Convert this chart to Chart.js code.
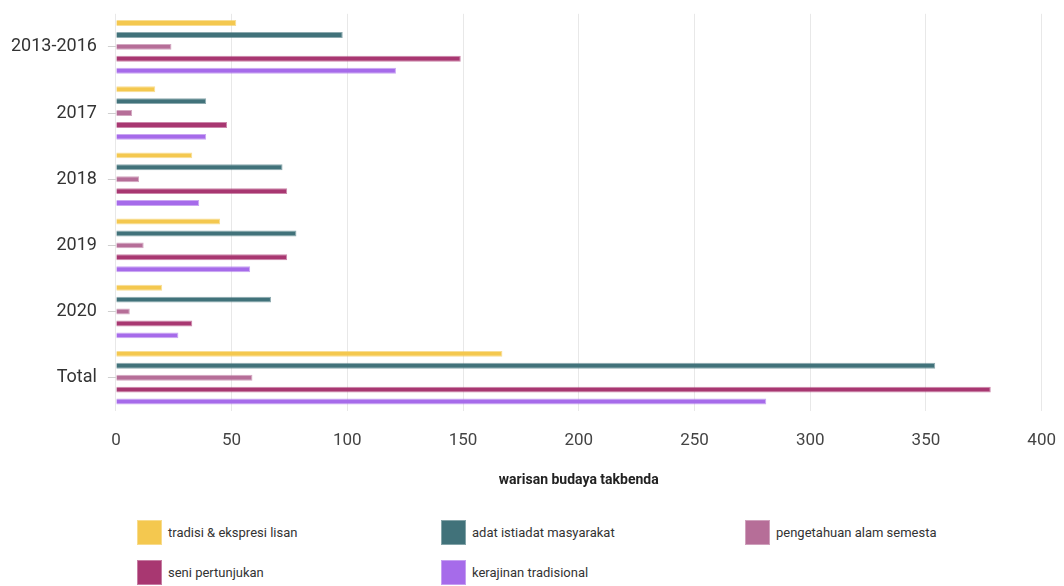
<!DOCTYPE html>
<html>
<head>
<meta charset="utf-8">
<script src="https://cdn.jsdelivr.net/npm/chart.js@4/dist/chart.umd.min.js"></script>
<style>
  html, body { margin:0; background:#fff; font-family: Roboto, sans-serif; overflow:hidden; }
  #wrap { position:relative; width:1064px; height:500px; }
  #legend { position:absolute; left:137px; top:520px; width:920px; }
  .item { position:absolute; display:flex; align-items:center; font-size:13px; color:#333; }
  .box { width:25px; height:25px; margin-right:6px; box-sizing:border-box; border:1px solid rgba(255,255,255,0.35); }
</style>
</head>
<body>
<div id="wrap"><canvas id="barChart"></canvas></div>
<div id="legend"></div>
<script>
var years = ['2013-2016', '2017', '2018', '2019', '2020', 'Total'];
var seriesNames = ['tradisi & ekspresi lisan', 'adat istiadat masyarakat', 'pengetahuan alam semesta', 'seni pertunjukan', 'kerajinan tradisional'];
var tradisi = [52, 17, 33, 45, 20, 167];
var adat = [98, 39, 72, 78, 67, 354];
var pengetahuan = [24, 7, 10, 12, 6, 59];
var seni = [149, 48, 74, 74, 33, 378];
var kerajinan = [121, 39, 36, 58, 27, 281];
var xTicks = [0, 50, 100, 150, 200, 250, 300, 350, 400];
var colors = ['#F4C84F', '#41727A', '#B66E98', '#A83771', '#A66BEA'];
var values = [tradisi, adat, pengetahuan, seni, kerajinan];

var datasets = [];
for (var i = 0; i < seriesNames.length; i++) {
    datasets.push({
        label: seriesNames[i],
        data: values[i],
        backgroundColor: colors[i],
        borderColor: colors[i] + '99',
        borderWidth: 1,
        categoryPercentage: 0.9,
        barPercentage: 0.5
    });
}

var chartDiv = document.getElementById('barChart');
var myChart = new Chart(chartDiv, {
    type: 'bar',
    data: { labels: years, datasets: datasets },
    options: {
        indexAxis: 'y',
        responsive: true,
        maintainAspectRatio: false,
        animation: false,
        layout: { padding: { top: 2, right: 8, left: 8, bottom: 11 } },
        plugins: { legend: { display: false }, tooltip: { enabled: false } },
        scales: {
            x: {
                min: xTicks[0],
                max: xTicks[xTicks.length - 1],
                afterBuildTicks: function(axis) {
                    axis.ticks = xTicks.map(function(v){ return { value: v }; });
                },
                grid: { color: '#e8e8e8', drawTicks: true, tickLength: 12, tickColor: 'rgba(0,0,0,0)' },
                border: { display: false },
                ticks: { font: { family: 'Roboto', size: 17 }, color: '#444', padding: 8 },
                title: {
                    display: true,
                    text: 'warisan budaya takbenda',
                    font: { family: 'Roboto', size: 14, weight: 'bold' },
                    color: '#222',
                    padding: { top: 13, bottom: 0 }
                }
            },
            y: {
                grid: { display: true, drawOnChartArea: false, offset: false, color: '#d0d0d0', tickLength: 16, tickBorderDash: [8, 8], tickBorderDashOffset: 8 },
                border: { display: false },
                ticks: { font: { family: 'Roboto', size: 18 }, color: '#333', padding: 3 }
            }
        }
    }
});

// legend in three columns
var legend = document.getElementById('legend');
datasets.forEach(function(ds, i) {
    var el = document.createElement('div');
    el.className = 'item';
    el.style.left = (i % 3) * 304 + 'px';
    el.style.top = Math.floor(i / 3) * 40 + 'px';
    el.innerHTML = '<span class="box" style="background:' + ds.backgroundColor + '"></span>' + ds.label;
    legend.appendChild(el);
});
</script>
</body>
</html>
